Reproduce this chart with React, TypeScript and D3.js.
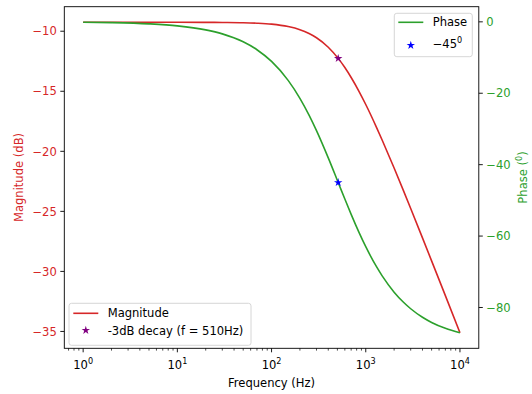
import React from 'react';
import * as d3 from 'd3';

// First-order low-pass response, sampled on a log frequency grid
const frequencyHz = [1, 2, 5, 10, 20, 30, 50, 70, 100, 150, 200, 250, 300, 400, 510, 600, 700, 850, 1000, 1300, 1500, 2000, 2500, 3000, 4000, 5000, 7000, 10000];
const magnitudeDb = [-9.25, -9.25, -9.25, -9.25, -9.26, -9.27, -9.29, -9.33, -9.41, -9.61, -9.87, -10.19, -10.54, -11.33, -12.26, -13.02, -13.85, -15.02, -16.1, -18.0, -19.1, -21.39, -23.23, -24.76, -27.21, -29.12, -32.02, -35.11];
const phaseDeg = [-0.11, -0.22, -0.56, -1.12, -2.25, -3.37, -5.6, -7.81, -11.09, -16.39, -21.41, -26.12, -30.47, -38.1, -45.0, -49.63, -53.93, -59.04, -62.98, -68.58, -71.22, -75.7, -78.47, -80.35, -82.73, -84.18, -85.83, -87.08];

// -3 dB cutoff marker
const cutoffHz = [510];
const cutoffMagDb = [-12.26];
const cutoffPhaseDeg = [-45];

const magTicks = [-10, -15, -20, -25, -30, -35];
const phaseTicks = [0, -20, -40, -60, -80];
const decadeExponents = [0, 1, 2, 3, 4];

const W = 532;
const H = 394;
const M = { left: 64.3, right: 478.8, top: 6.7, bottom: 348.3 };
const FONT = '"DejaVu Sans", Verdana, sans-serif';
const FS = 11.55;
const RED = '#d62728';
const GREEN = '#2ca02c';
const LW = 1.6;

function padded(ext: [number, number], f = 0.05): [number, number] {
  const r = ext[1] - ext[0];
  return [ext[0] - r * f, ext[1] + r * f];
}

export default function App() {
  const logExt = padded([Math.log10(d3.min(frequencyHz)!), Math.log10(d3.max(frequencyHz)!)]);
  const x = d3.scaleLog().domain([10 ** logExt[0], 10 ** logExt[1]]).range([M.left, M.right]);
  const yMag = d3.scaleLinear().domain(padded(d3.extent(magnitudeDb) as [number, number])).range([M.bottom, M.top]);
  const yPh = d3.scaleLinear().domain(padded(d3.extent(phaseDeg) as [number, number])).range([M.bottom, M.top]);

  const magLine = d3.line<number>().x((_, i) => x(frequencyHz[i])).y((d) => yMag(d)).curve(d3.curveMonotoneX)(magnitudeDb)!;
  const phLine = d3.line<number>().x((_, i) => x(frequencyHz[i])).y((d) => yPh(d)).curve(d3.curveMonotoneX)(phaseDeg)!;

  const star = d3.symbol().type(d3.symbolStar).size(22)()!;

  const minorTicks: number[] = [];
  for (let e = -1; e <= 4; e++) {
    for (let k = 2; k <= 9; k++) {
      const v = k * 10 ** e;
      if (v >= x.domain()[0] && v <= x.domain()[1]) minorTicks.push(v);
    }
  }

  const fmt = (v: number) => (v < 0 ? '\u2212' + Math.abs(v) : String(v));

  return (
    <svg width={W} height={H} style={{ position: 'absolute', left: 0, top: 0, background: '#fff' }} fontFamily={FONT}>
      <rect x={0} y={0} width={W} height={H} fill="#fff" />

      {/* magnitude curve and cutoff marker */}
      <path d={magLine} fill="none" stroke={RED} strokeWidth={LW} />
      {cutoffHz.map((f, i) => (
        <path key={'cm' + i} d={star} transform={`translate(${x(f)},${yMag(cutoffMagDb[i])})`} fill="purple" />
      ))}

      {/* magnitude legend */}
      <g>
        <rect x={69} y={303.3} width={182} height={42} rx={2.5} fill="#fff" fillOpacity={0.8} stroke="#cccccc" strokeWidth={0.8} />
        <line x1={73.3} x2={98.3} y1={313.3} y2={313.3} stroke={RED} strokeWidth={LW} />
        <text x={107.7} y={317.4} fontSize={FS} fill="#000">Magnitude</text>
        <path d={star} transform="translate(85.8,330.3)" fill="purple" />
        <text x={107.7} y={334.5} fontSize={FS} fill="#000">-3dB decay (f = 510Hz)</text>
      </g>

      {/* phase curve and marker */}
      <path d={phLine} fill="none" stroke={GREEN} strokeWidth={LW} />
      {cutoffHz.map((f, i) => (
        <path key={'cp' + i} d={star} transform={`translate(${x(f)},${yPh(cutoffPhaseDeg[i])})`} fill="blue" />
      ))}

      {/* phase legend */}
      <g>
        <rect x={394.3} y={13.3} width={78} height={43.4} rx={2.5} fill="#fff" fillOpacity={0.8} stroke="#cccccc" strokeWidth={0.8} />
        <line x1={398.3} x2={423.3} y1={22.3} y2={22.3} stroke={GREEN} strokeWidth={LW} />
        <text x={432.7} y={26.4} fontSize={FS} fill="#000">Phase</text>
        <path d={star} transform="translate(410.8,45.3)" fill="blue" />
        <text x={432.7} y={47.6} fontSize={FS} fill="#000">
          {'\u221245'}
          <tspan fontSize={FS * 0.7} dy={-5}>0</tspan>
        </text>
      </g>

      {/* frame */}
      <rect x={M.left} y={M.top} width={M.right - M.left} height={M.bottom - M.top} fill="none" stroke="#000" strokeWidth={0.9} />

      {/* x axis */}
      {minorTicks.map((v) => (
        <line key={'mn' + v} x1={x(v)} x2={x(v)} y1={M.bottom} y2={M.bottom + 2.3} stroke="#000" strokeWidth={0.7} />
      ))}
      {decadeExponents.map((e) => {
        const px = x(10 ** e);
        return (
          <g key={'dx' + e}>
            <line x1={px} x2={px} y1={M.bottom} y2={M.bottom + 4} stroke="#000" strokeWidth={0.9} />
            <text x={px} y={368.6} fontSize={FS} textAnchor="middle" fill="#000">
              10
              <tspan fontSize={FS * 0.7} dy={-5}>{e}</tspan>
            </text>
          </g>
        );
      })}
      <text x={(M.left + M.right) / 2} y={386.8} fontSize={FS} textAnchor="middle" fill="#000">Frequency (Hz)</text>

      {/* left axis: magnitude */}
      {magTicks.map((v) => (
        <g key={'mt' + v}>
          <line x1={M.left - 4} x2={M.left} y1={yMag(v)} y2={yMag(v)} stroke="#000" strokeWidth={0.9} />
          <text x={M.left - 7.5} y={yMag(v) + 4.2} fontSize={FS} textAnchor="end" fill={RED}>{fmt(v)}</text>
        </g>
      ))}
      <text transform={`translate(22.5,${(M.top + M.bottom) / 2}) rotate(-90)`} fontSize={FS} textAnchor="middle" fill={RED}>Magnitude (dB)</text>

      {/* right axis: phase */}
      {phaseTicks.map((v) => (
        <g key={'pt' + v}>
          <line x1={M.right} x2={M.right + 4} y1={yPh(v)} y2={yPh(v)} stroke="#000" strokeWidth={0.9} />
          <text x={M.right + 7.5} y={yPh(v) + 4.2} fontSize={FS} textAnchor="start" fill={GREEN}>{fmt(v)}</text>
        </g>
      ))}
      <text transform={`translate(527,${(M.top + M.bottom) / 2}) rotate(-90)`} fontSize={FS} textAnchor="middle" fill={GREEN}>
        Phase (<tspan fontSize={FS * 0.7} dy={-5}>0</tspan><tspan dy={5}>)</tspan>
      </text>
    </svg>
  );
}
